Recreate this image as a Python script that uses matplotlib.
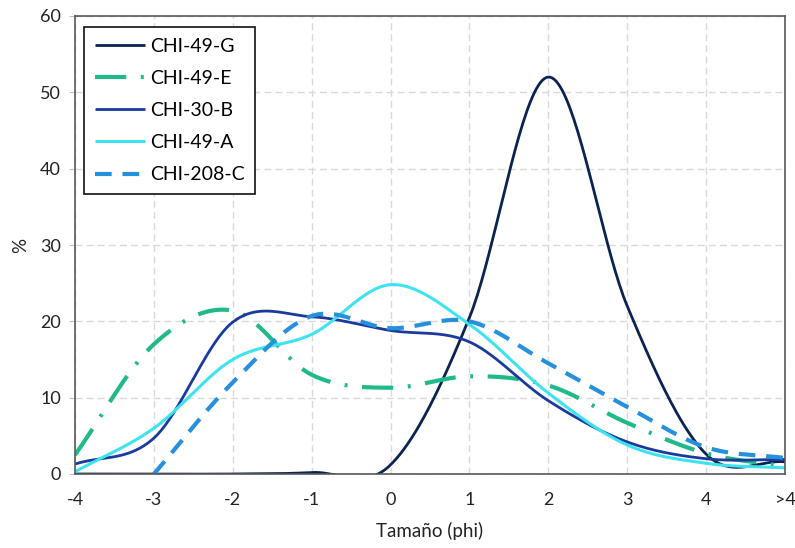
import numpy as np
import matplotlib
matplotlib.use("Agg")
import matplotlib.pyplot as plt

plt.rcParams['font.family'] = ['Lato', 'DejaVu Sans']

categories = ["-4", "-3", "-2", "-1", "0", "1", "2", "3", "4", ">4"]
chi_49_g = [0.0, 0.0, 0.0, 0.2, 1.2, 20.5, 52.0, 22.0, 2.6, 1.6]
chi_49_e = [2.5, 17.0, 21.4, 13.0, 11.3, 12.8, 11.6, 6.7, 2.7, 1.0]
chi_30_b = [1.3, 4.7, 19.9, 20.6, 18.8, 17.3, 9.6, 4.2, 2.0, 1.9]
chi_49_a = [0.3, 6.0, 15.0, 18.3, 24.8, 19.6, 10.6, 3.8, 1.4, 0.8]
chi_208_c = [np.nan, 0.0, 12.0, 20.7, 19.1, 20.0, 14.5, 8.8, 3.5, 2.1]

series = [
    ("CHI-49-G", chi_49_g, "#0b2350", 2.0, None),
    ("CHI-49-E", chi_49_e, "#1fb98a", 3.0, (0, (7.5, 3.5, 0.7, 3.5))),
    ("CHI-30-B", chi_30_b, "#1a3a9e", 2.0, None),
    ("CHI-49-A", chi_49_a, "#3de3ee", 2.2, None),
    ("CHI-208-C", chi_208_c, "#2790dc", 3.0, (0, (4.0, 2.6))),
]


def smooth(xs, ys, n=40):
    xs = np.asarray(xs, float)
    ys = np.asarray(ys, float)
    m = ~np.isnan(ys)
    xs, ys = xs[m], ys[m]
    px = np.concatenate([[2 * xs[0] - xs[1]], xs, [2 * xs[-1] - xs[-2]]])
    py = np.concatenate([[2 * ys[0] - ys[1]], ys, [2 * ys[-1] - ys[-2]]])
    ox, oy = [], []
    for i in range(1, len(px) - 2):
        t = np.linspace(0, 1, n, endpoint=(i == len(px) - 3))
        p0x, p1x, p2x, p3x = px[i - 1:i + 3]
        p0y, p1y, p2y, p3y = py[i - 1:i + 3]
        c1x = p1x + (p2x - p0x) / 6
        c1y = p1y + (p2y - p0y) / 6
        c2x = p2x - (p3x - p1x) / 6
        c2y = p2y - (p3y - p1y) / 6
        b = lambda a, c, d, e: ((1 - t) ** 3 * a + 3 * (1 - t) ** 2 * t * c
                                + 3 * (1 - t) * t ** 2 * d + t ** 3 * e)
        ox.append(b(p1x, c1x, c2x, p2x))
        oy.append(b(p1y, c1y, c2y, p2y))
    return np.concatenate(ox), np.concatenate(oy)


fig = plt.figure(figsize=(7.95, 5.48), dpi=100)
ax = fig.add_axes([75 / 795, 1 - 474 / 548, (785 - 75) / 795, (474 - 16) / 548])

x = np.arange(len(categories))
for name, vals, col, lw, dash in series:
    sx, sy = smooth(x, vals)
    line, = ax.plot(sx, sy, color=col, lw=lw, label=name, solid_capstyle='butt')
    if dash is not None:
        line.set_linestyle(dash)
        line.set_dash_capstyle('butt')

ax.set_xlim(0, len(categories) - 1)
ax.set_ylim(0, 60)
ax.set_xticks(x)
ax.set_xticklabels(categories)
ax.set_yticks(np.arange(0, 61, 10))
ax.grid(True, color="#d9d9d9", linestyle=(0, (5, 3)), lw=1.0)
ax.set_axisbelow(True)
for s in ax.spines.values():
    s.set_color("#595959")
    s.set_linewidth(1.2)
ax.tick_params(axis='x', length=0, labelsize=13, colors="#222222", pad=13)
ax.tick_params(axis='y', length=4, color="#bfbfbf", labelsize=13, colors="#222222", pad=6)
ax.set_xlabel("Tamaño (phi)", fontsize=13.5, color="#222222", labelpad=10)
ax.set_ylabel("%", fontsize=13.5, color="#222222", labelpad=8)

leg = ax.legend(loc='upper left', bbox_to_anchor=(9 / 710, 1 - 11 / 458), fontsize=14,
                frameon=True, fancybox=False, edgecolor="#111111", framealpha=1,
                handlelength=2.6, handletextpad=0.25, labelspacing=0.78,
                borderpad=0.55, borderaxespad=0)
leg.get_frame().set_linewidth(1.2)

fig.savefig("out.png", dpi=100)
